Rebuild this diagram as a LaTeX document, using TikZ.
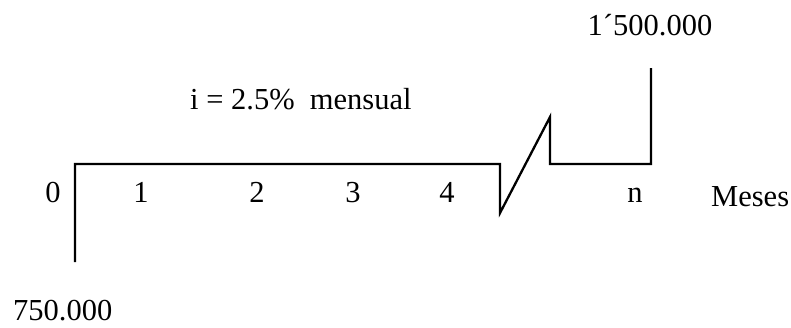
\documentclass[tikz,border=0pt]{standalone}
\usepackage{fontspec}
\setmainfont{Liberation Serif}
\begin{document}
\begin{tikzpicture}[x=1pt,y=-1pt,
  axis/.style={line width=2.3pt,line join=miter},
  lbl/.style={inner sep=0pt,anchor=base,font=\fontsize{30.5}{36}\selectfont}]
\useasboundingbox (0,0) rectangle (791,327);
\coordinate (a) at (75,262);
\coordinate (b) at (75,164);
\coordinate (c) at (500,164);
\coordinate (d) at (500,213);
\coordinate (e) at (550,117);
\coordinate (f) at (550,164);
\coordinate (g) at (651,164);
\coordinate (h) at (651,68);
\draw[axis] (a) -- (b) -- (c) -- (d) -- (e) -- (f) -- (g) -- (h);
\node[lbl] (t0) at (53,202) {0};
\node[lbl] (t1) at (141,202) {1};
\node[lbl] (t2) at (257,202) {2};
\node[lbl] (t3) at (353,202) {3};
\node[lbl] (t4) at (447,202) {4};
\node[lbl] (tn) at (635,202) {n};
\node[lbl,anchor=base west] (meses) at (711,206) {Meses};
\node[lbl,anchor=base west] (rate) at (190,109) {i = 2.5\%\ \ mensual};
\node[lbl] (fv) at (650,35) {1´500.000};
\node[lbl,anchor=base west] (pv) at (13,320) {750.000};
\end{tikzpicture}
\end{document}
